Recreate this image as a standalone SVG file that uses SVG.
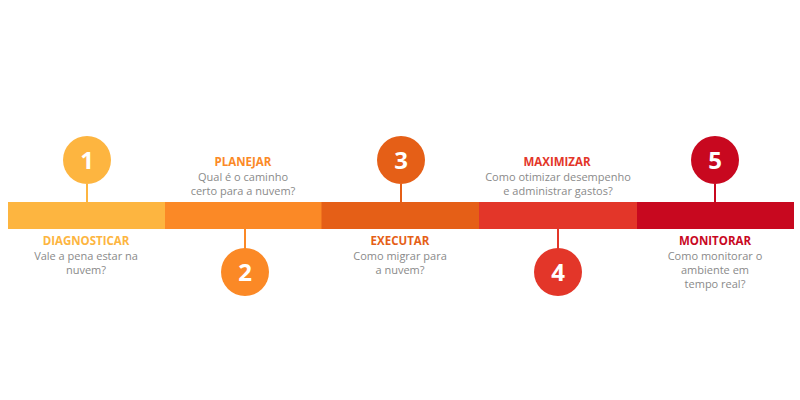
<svg xmlns="http://www.w3.org/2000/svg" width="800" height="400" viewBox="0 0 800 400">
<style>
.num{font-family:"Open Sans","Liberation Sans",sans-serif;font-size:24px;font-weight:bold;fill:#fff;text-anchor:middle}
.ttl{font-family:"Open Sans","Liberation Sans",sans-serif;font-size:11.5px;font-weight:bold;text-anchor:middle}
.dsc{font-family:"Open Sans","Liberation Sans",sans-serif;font-size:11px;fill:#8a8a8a;text-anchor:middle}
.c1{fill:#fdb540}.c2{fill:#fb8926}.c3{fill:#e55f17}.c4{fill:#e33629}.c5{fill:#c8081f}
.s1{stroke:#fdb540}.s2{stroke:#fb8926}.s3{stroke:#e55f17}.s4{stroke:#e33629}.s5{stroke:#c8081f}
</style>
<rect width="800" height="400" fill="#fff"/>
<g id="connectors" stroke-width="2">
<line class="s1" x1="87" y1="184" x2="87" y2="203"/>
<line class="s2" x1="245" y1="228" x2="245" y2="249"/>
<line class="s3" x1="401" y1="184" x2="401" y2="203"/>
<line class="s4" x1="558" y1="228" x2="558" y2="249"/>
<line class="s5" x1="715" y1="184" x2="715" y2="203"/>
</g>
<g id="step1">
<rect class="c1" x="8" y="202" width="157.5" height="27"/>
<circle class="c1" cx="87" cy="160" r="24"/>
<text class="num" x="87" y="169">1</text>
<text class="ttl c1" x="86" y="245">DIAGNOSTICAR</text>
<text class="dsc" x="86" y="260">Vale a pena estar na</text>
<text class="dsc" x="86" y="274">nuvem?</text>
</g>
<g id="step2">
<rect class="c2" x="165" y="202" width="157" height="27"/>
<circle class="c2" cx="245" cy="272" r="24"/>
<text class="num" x="245" y="281">2</text>
<text class="ttl c2" x="243" y="166">PLANEJAR</text>
<text class="dsc" x="243" y="181">Qual é o caminho</text>
<text class="dsc" x="243" y="195">certo para a nuvem?</text>
</g>
<g id="step3">
<rect class="c3" x="321.5" y="202" width="158" height="27"/>
<circle class="c3" cx="401" cy="160" r="24"/>
<text class="num" x="401" y="169">3</text>
<text class="ttl c3" x="400" y="245">EXECUTAR</text>
<text class="dsc" x="400" y="260">Como migrar para</text>
<text class="dsc" x="400" y="274">a nuvem?</text>
</g>
<g id="step4">
<rect class="c4" x="479" y="202" width="158" height="27"/>
<circle class="c4" cx="558" cy="272" r="24"/>
<text class="num" x="558" y="281">4</text>
<text class="ttl c4" x="557" y="166">MAXIMIZAR</text>
<text class="dsc" x="558" y="181">Como otimizar desempenho</text>
<text class="dsc" x="558" y="195">e administrar gastos?</text>
</g>
<g id="step5">
<rect class="c5" x="637" y="202" width="157" height="27"/>
<circle class="c5" cx="715" cy="160" r="24"/>
<text class="num" x="715" y="169">5</text>
<text class="ttl c5" x="715" y="245">MONITORAR</text>
<text class="dsc" x="715" y="260">Como monitorar o</text>
<text class="dsc" x="715" y="274">ambiente em</text>
<text class="dsc" x="715" y="288">tempo real?</text>
</g>
</svg>
